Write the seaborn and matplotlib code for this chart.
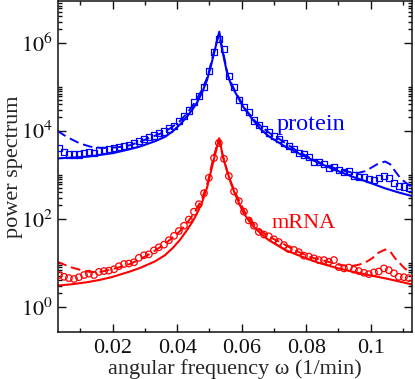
import numpy as np
import pandas as pd
import matplotlib
matplotlib.use("Agg")
import matplotlib.pyplot as plt
import matplotlib.ticker as mticker
import seaborn as sns

# ---------------- data ----------------
# simulated spectra (markers)
omega_data = [0.0033, 0.0049, 0.0064, 0.0080, 0.0095, 0.0111, 0.0126, 0.0142, 0.0157, 0.0173,
              0.0188, 0.0204, 0.0219, 0.0235, 0.0250, 0.0266, 0.0281, 0.0297, 0.0312, 0.0328,
              0.0343, 0.0359, 0.0374, 0.0390, 0.0405, 0.0421, 0.0436, 0.0452, 0.0467, 0.0483,
              0.0498, 0.0514, 0.0529, 0.0545, 0.0560, 0.0576, 0.0591, 0.0607, 0.0622, 0.0638,
              0.0653, 0.0669, 0.0684, 0.0700, 0.0715, 0.0731, 0.0746, 0.0762, 0.0777, 0.0793,
              0.0808, 0.0824, 0.0839, 0.0855, 0.0870, 0.0886, 0.0901, 0.0917, 0.0932, 0.0948,
              0.0963, 0.0979, 0.0994, 0.1010, 0.1025, 0.1041, 0.1056, 0.1072, 0.1087, 0.1103,
              0.1118]
protein_data_log10 = [3.61, 3.52, 3.46, 3.46, 3.46, 3.49, 3.52, 3.50, 3.55, 3.57,
                      3.58, 3.60, 3.63, 3.65, 3.68, 3.71, 3.77, 3.82, 3.85, 3.89,
                      3.94, 3.98, 4.05, 4.10, 4.22, 4.33, 4.46, 4.66, 4.79, 5.00,
                      5.35, 5.78, 6.08, 5.85, 5.25, 5.00, 4.70, 4.53, 4.42, 4.23,
                      4.13, 4.04, 3.96, 3.88, 3.82, 3.72, 3.66, 3.58, 3.50, 3.46,
                      3.41, 3.29, 3.28, 3.24, 3.16, 3.17, 3.10, 3.07, 3.08, 2.98,
                      2.95, 2.95, 2.90, 2.88, 2.92, 2.97, 2.93, 2.81, 2.74, 2.73,
                      2.69]
mrna_data_log10 = [0.72, 0.68, 0.65, 0.63, 0.67, 0.72, 0.75, 0.72, 0.79, 0.81,
                   0.82, 0.85, 0.92, 0.97, 0.98, 1.01, 1.11, 1.17, 1.19, 1.28,
                   1.35, 1.41, 1.51, 1.61, 1.72, 1.84, 1.98, 2.16, 2.33, 2.58,
                   2.93, 3.38, 3.72, 3.36, 2.97, 2.62, 2.40, 2.16, 1.96, 1.84,
                   1.70, 1.64, 1.60, 1.53, 1.47, 1.40, 1.31, 1.29, 1.24, 1.16,
                   1.14, 1.10, 1.06, 1.06, 1.02, 1.06, 0.90, 0.87, 0.89, 0.84,
                   0.81, 0.77, 0.74, 0.78, 0.80, 0.87, 0.83, 0.76, 0.68, 0.67,
                   0.65]

# dashed curves
omega_dash = [0.00284, 0.00486, 0.00734, 0.00982, 0.01293, 0.01603, 0.01913, 0.02223, 0.02534, 0.02844,
              0.03154, 0.03464, 0.03775, 0.04085, 0.04333, 0.04550, 0.04768, 0.04954, 0.05109, 0.05280,
              0.05419, 0.05574, 0.05792, 0.06102, 0.06412, 0.06815, 0.07188, 0.07653, 0.08118, 0.08584,
              0.09049, 0.09360, 0.09608, 0.09825, 0.10042, 0.10228, 0.10446, 0.10601, 0.10756, 0.10911,
              0.11066, 0.11252]
protein_dash_log10 = [4.00, 3.90, 3.80, 3.71, 3.64, 3.61, 3.61, 3.63, 3.67, 3.75,
                      3.84, 3.93, 4.05, 4.22, 4.42, 4.65, 4.93, 5.25, 5.72, 6.17,
                      5.80, 5.25, 4.90, 4.50, 4.22, 3.97, 3.80, 3.57, 3.38, 3.22,
                      3.11, 3.06, 3.04, 3.08, 3.17, 3.25, 3.30, 3.24, 3.08, 2.93,
                      2.83, 2.73]
mrna_dash_log10 = [1.02, 0.96, 0.89, 0.84, 0.79, 0.79, 0.84, 0.90, 0.97, 1.08,
                   1.20, 1.35, 1.52, 1.72, 1.93, 2.16, 2.45, 2.85, 3.35, 3.80,
                   3.42, 3.00, 2.60, 2.14, 1.84, 1.60, 1.47, 1.28, 1.13, 1.04,
                   0.95, 0.92, 0.95, 1.00, 1.10, 1.22, 1.30, 1.26, 1.10, 0.98,
                   0.86, 0.78]

# solid (theory) curves
omega_solid = [0.00284, 0.00734, 0.01231, 0.01603, 0.02006, 0.02534, 0.02844, 0.03309, 0.03620, 0.03868,
               0.04085, 0.04302, 0.04488, 0.04612, 0.04768, 0.04923, 0.05047, 0.05171, 0.05304, 0.05419,
               0.05543, 0.05667, 0.05792, 0.06040, 0.06310, 0.06567, 0.06825, 0.07343, 0.07861, 0.08376,
               0.08894, 0.09412, 0.09927, 0.10446, 0.10849, 0.11252]
protein_solid_log10 = [3.37, 3.39, 3.41, 3.45, 3.49, 3.58, 3.64, 3.76, 3.86, 3.99,
                       4.14, 4.32, 4.50, 4.64, 4.86, 5.15, 5.48, 5.85, 6.25, 5.75,
                       5.32, 5.05, 4.88, 4.55, 4.28, 4.05, 3.88, 3.64, 3.45, 3.27,
                       3.11, 2.96, 2.83, 2.69, 2.60, 2.52]
mrna_solid_log10 = [0.48, 0.51, 0.56, 0.61, 0.68, 0.80, 0.88, 1.03, 1.17, 1.34,
                    1.52, 1.74, 1.95, 2.12, 2.37, 2.70, 3.08, 3.45, 3.83, 3.40,
                    3.10, 2.80, 2.56, 2.15, 1.86, 1.68, 1.52, 1.29, 1.14, 1.00,
                    0.89, 0.80, 0.72, 0.645, 0.58, 0.51]

x_ticks = [0.02, 0.04, 0.06, 0.08, 0.10]
x_tick_labels = ["0.02", "0.04", "0.06", "0.08", "0.1"]
y_ticks = [1e0, 1e2, 1e4, 1e6]
y_tick_labels = [r"$10^0$", r"$10^2$", r"$10^4$", r"$10^6$"]

BLUE = "#0000ff"
RED = "#ff0000"

# ---------------- figure ----------------
sns.set_style("ticks")
plt.rcParams["font.family"] = ["Liberation Serif", "DejaVu Serif"]
plt.rcParams["mathtext.fontset"] = "stix"

fig = plt.figure(figsize=(4.15, 3.79), dpi=100)
ax = fig.add_axes([57.5 / 415, 47 / 379, (412 - 57.5) / 415, 331 / 379])

df_data = pd.DataFrame({"omega": omega_data,
                        "protein": np.power(10.0, protein_data_log10),
                        "mrna": np.power(10.0, mrna_data_log10)})
df_dash = pd.DataFrame({"omega": omega_dash,
                        "protein": np.power(10.0, protein_dash_log10),
                        "mrna": np.power(10.0, mrna_dash_log10)})
df_solid = pd.DataFrame({"omega": omega_solid,
                         "protein": np.power(10.0, protein_solid_log10),
                         "mrna": np.power(10.0, mrna_solid_log10)})

for col, c in (("protein", BLUE), ("mrna", RED)):
    sns.lineplot(data=df_solid, x="omega", y=col, color=c, linewidth=1.5, ax=ax,
                 sort=False, estimator=None)
    sns.lineplot(data=df_dash, x="omega", y=col, color=c, linewidth=1.4, ax=ax,
                 sort=False, estimator=None, linestyle=(0, (5, 2.5)))

sns.scatterplot(data=df_data, x="omega", y="protein", marker="s", s=20,
                facecolor="none", edgecolor=BLUE, linewidth=0.9, ax=ax, zorder=3)
sns.scatterplot(data=df_data, x="omega", y="mrna", marker="o", s=22,
                facecolor="none", edgecolor=RED, linewidth=0.9, ax=ax, zorder=3)

ax.set_yscale("log")
ax.set_xlim(0.00287, 0.1128)
ax.set_ylim(10 ** -0.575, 10 ** 6.948)

ax.set_xticks(x_ticks)
ax.set_xticklabels(x_tick_labels)
ax.xaxis.set_minor_locator(mticker.FixedLocator([0.01, 0.03, 0.05, 0.07, 0.09, 0.11]))

ax.set_yticks(y_ticks)
ax.set_yticklabels(y_tick_labels)
minor_y = [k * 10.0 ** e for e in (0, 2, 4, 6) for k in range(2, 11)]
ax.yaxis.set_minor_locator(mticker.FixedLocator(minor_y))
ax.yaxis.set_minor_formatter(mticker.NullFormatter())

ax.tick_params(which="both", direction="in", top=True, right=True, width=1.0, colors="#111111")
ax.tick_params(which="major", length=5.5)
ax.tick_params(axis="x", which="major", labelsize=16, pad=5)
ax.tick_params(axis="y", which="major", labelsize=16, pad=3)
ax.tick_params(which="minor", length=3)
for s in ax.spines.values():
    s.set_linewidth(1.1)
    s.set_color("#111111")

ax.set_xlabel("angular frequency ω (1/min)", fontsize=16, labelpad=1)
ax.set_ylabel("power spectrum", fontsize=16)
ax.yaxis.set_label_coords(-0.098, 0.5)

ax.text(0.0707, 10 ** 4.02, "protein", color=BLUE, fontsize=17.5)
ax.text(0.0694, 10 ** 1.79, "mRNA", color=RED, fontsize=16)

if ax.get_legend() is not None:
    ax.get_legend().remove()

fig.savefig("out.png", dpi=100)
